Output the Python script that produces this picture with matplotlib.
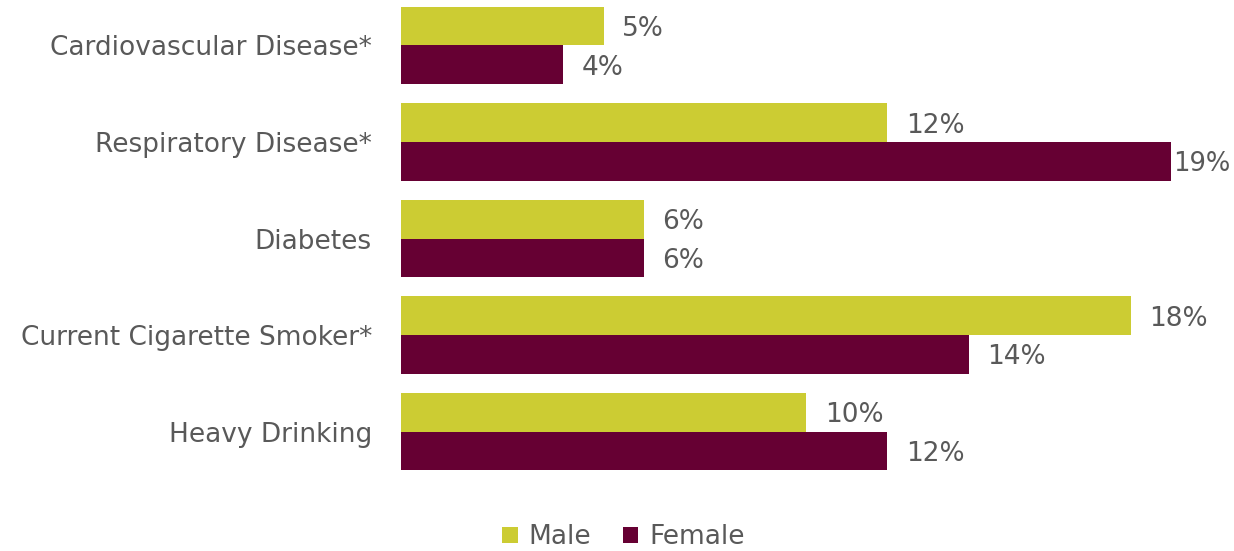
import numpy as np
import matplotlib
matplotlib.use('Agg')
import matplotlib.pyplot as plt

categories = ['Cardiovascular Disease*', 'Respiratory Disease*', 'Diabetes',
              'Current Cigarette Smoker*', 'Heavy Drinking']
male = [5, 12, 6, 18, 10]
female = [4, 19, 6, 14, 12]

MALE_C = '#cccc33'
FEMALE_C = '#660033'
TXT = '#595959'

plt.rcParams['font.family'] = ['DejaVu Sans']

fig = plt.figure(figsize=(12.34, 5.51), dpi=100)
ax = fig.add_axes([0.325, 0.138, 0.657, 0.853])

y = np.arange(len(categories))
h = 0.4
ax.barh(y - h / 2, male, height=h, color=MALE_C, label='Male')
ax.barh(y + h / 2, female, height=h, color=FEMALE_C, label='Female')

FS = 19
for yi, m, f in zip(y, male, female):
    ax.text(m + 0.45, yi - h / 2 + 0.03, f'{m}%', va='center', ha='left', fontsize=FS, color=TXT)
    # the longest bar gets its label tucked closer so it fits
    if f == max(female + male):
        ax.text(f + 0.05, yi + h / 2 + 0.03, f'{f}%', va='center', ha='left',
                fontsize=FS - 0.5, color=TXT)
    else:
        ax.text(f + 0.45, yi + h / 2 + 0.03, f'{f}%', va='center', ha='left',
                fontsize=FS, color=TXT)

ax.set_xlim(0, 20)
ax.set_ylim(4.45, -0.42)
ax.set_yticks(y)
ax.set_yticklabels(categories, fontsize=FS, color=TXT)
ax.tick_params(axis='y', length=0, pad=21)
ax.set_xticks([])
for s in ax.spines.values():
    s.set_visible(False)

fig.legend(loc='center', bbox_to_anchor=(0.505, 0.025), ncol=2, frameon=False,
           fontsize=FS, labelcolor=TXT, handlelength=0.6, handleheight=0.6,
           handletextpad=0.4, columnspacing=1.2)

fig.savefig('out.png', dpi=100)
